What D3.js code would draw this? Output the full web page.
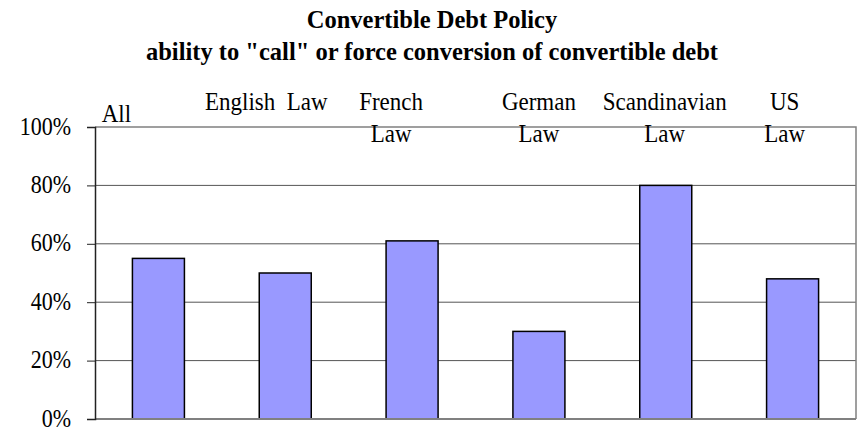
<!DOCTYPE html>
<html>
<head>
<meta charset="utf-8">
<script src="https://cdn.jsdelivr.net/npm/d3@7/dist/d3.min.js"></script>
<style>
  html, body { margin: 0; padding: 0; background: #fff; }
  svg { display: block; }
</style>
</head>
<body>
<svg id="chart" width="865" height="430"></svg>
<script>
// Share of firms able to "call" or force conversion, by legal origin
const categories = ["All", "English Law", "French Law", "German Law", "Scandinavian Law", "US Law"];
const labelLines = [["All"], ["English  Law"], ["French", "Law"], ["German", "Law"], ["Scandinavian", "Law"], ["US", "Law"]];
const values = [0.55, 0.50, 0.61, 0.30, 0.80, 0.48];
const yTicks = [0, 0.2, 0.4, 0.6, 0.8, 1.0];
const titleLines = ["Convertible Debt Policy", "ability to \"call\" or force conversion of convertible debt"];

const FONT = "Liberation Serif";
const svg = d3.select("#chart").attr("font-family", FONT);
const plot = { left: 95, right: 856, top: 127, bottom: 419 };

const x = d3.scaleBand()
  .domain(categories)
  .range([plot.left, plot.right])
  .paddingInner(0.59)
  .paddingOuter(0.295);

const y = d3.scaleLinear().domain([0, 1]).range([plot.bottom, plot.top]);

// Horizontal gridlines
svg.append("g")
  .selectAll("line")
  .data(yTicks.filter(d => d > 0 && d < 1))
  .join("line")
  .attr("x1", plot.left).attr("x2", plot.right)
  .attr("y1", d => y(d)).attr("y2", d => y(d))
  .attr("stroke", "#555").attr("stroke-width", 1);

// Plot frame (top and right in grey)
svg.append("path")
  .attr("d", `M${plot.left},${y(1)}H${plot.right}V${plot.bottom}`)
  .attr("fill", "none").attr("stroke", "#808080").attr("stroke-width", 1.5);

// Bars
svg.append("g")
  .selectAll("rect")
  .data(values)
  .join("rect")
  .attr("x", (d, i) => x(categories[i]))
  .attr("width", x.bandwidth())
  .attr("y", d => y(d))
  .attr("height", d => y(0) - y(d))
  .attr("fill", "#9999FF")
  .attr("stroke", "#000")
  .attr("stroke-width", 1.5);

// Bottom axis line
svg.append("line")
  .attr("x1", plot.left).attr("x2", plot.right)
  .attr("y1", plot.bottom).attr("y2", plot.bottom)
  .attr("stroke", "#808080").attr("stroke-width", 2);

// Left axis with ticks and percent labels
const yAxis = d3.axisLeft(y)
  .tickValues(yTicks)
  .tickSize(8)
  .tickPadding(0)
  .tickFormat(d3.format(".0%"));

const gy = svg.append("g")
  .attr("transform", `translate(${plot.left},0)`)
  .call(yAxis)
  .attr("font-family", FONT);
gy.select(".domain").attr("stroke", "#222").attr("stroke-width", 1.5);
gy.selectAll(".tick line").attr("stroke", "#222").attr("stroke-width", 1);
gy.selectAll(".tick text").remove();
gy.selectAll(".tick")
  .append("text")
  .attr("text-anchor", "end")
  .attr("transform", "translate(-24,7) scale(1,1.1)")
  .attr("fill", "#000")
  .attr("font-family", FONT)
  .attr("font-size", 22)
  .text(d => d3.format(".0%")(d));

// Category labels above the plot
const labelShift = [-42, -19, -21, 0, -1, -8];
const catG = svg.append("g");
labelLines.forEach((lines, i) => {
  const cx = x(categories[i]) + x.bandwidth() / 2 + labelShift[i];
  lines.forEach((t, j) => {
    const by = lines.length === 1 && i === 0 ? 122 : 110 + j * 31.5;
    catG.append("text")
      .attr("transform", `translate(${cx},${by}) scale(1,1.08)`)
      .attr("text-anchor", "middle")
      .attr("font-family", FONT)
      .attr("font-size", 23)
      .style("white-space", "pre")
      .text(t);
  });
});

// Title
svg.append("g")
  .selectAll("text")
  .data(titleLines)
  .join("text")
  .attr("x", 432)
  .attr("y", (d, i) => 28 + i * 32)
  .attr("text-anchor", "middle")
  .attr("font-family", FONT)
  .attr("font-weight", "bold")
  .attr("font-size", 24.5)
  .text(d => d);
</script>
</body>
</html>
